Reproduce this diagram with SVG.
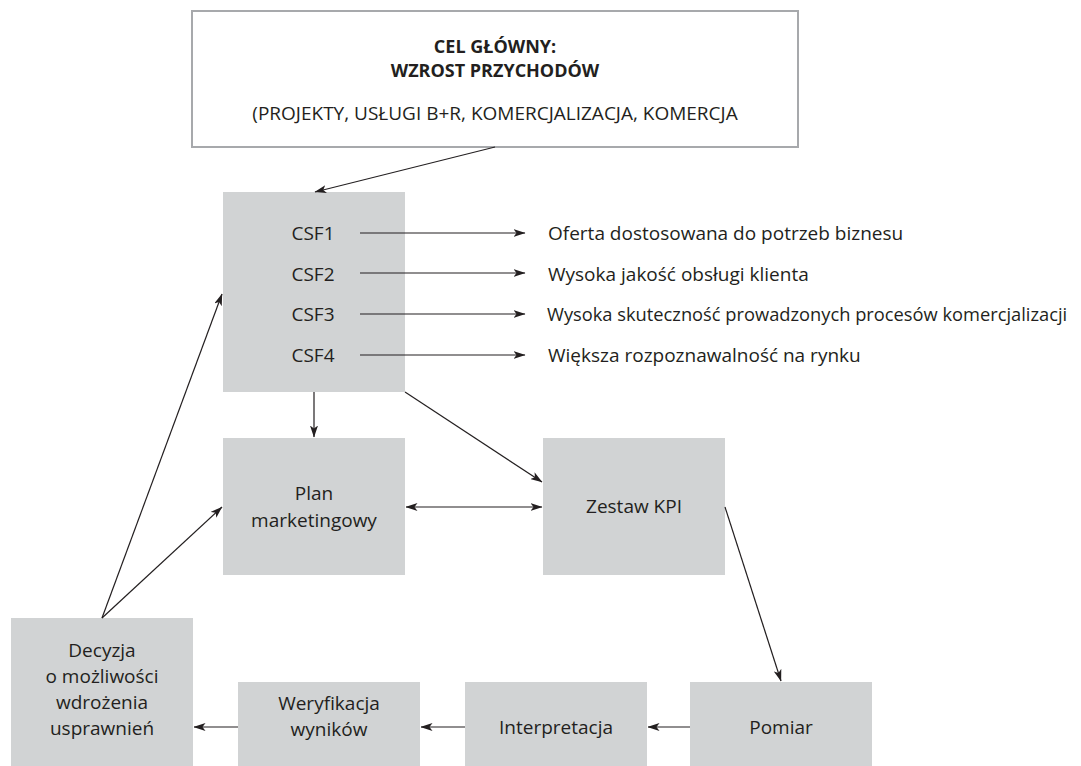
<svg xmlns="http://www.w3.org/2000/svg" width="1081" height="766" viewBox="0 0 1081 766">
<style>
  .box { fill: #d1d3d4; stroke: none; }
  .goal { fill: #ffffff; stroke: #a7a9ac; stroke-width: 2; }
  .t { font-family: "Open Sans", "Liberation Sans", sans-serif; font-size: 19px; fill: #231f20; }
  .c { text-anchor: middle; }
  .b { font-weight: bold; font-size: 18px; }
  .ln { fill: none; stroke: #231f20; stroke-width: 1.2; marker-end: url(#ah); }
  .dbl { marker-start: url(#ah); }
</style>
<defs>
  <marker id="ah" viewBox="0 0 12 8" refX="11.5" refY="4" markerWidth="12" markerHeight="8" markerUnits="userSpaceOnUse" orient="auto-start-reverse">
    <path d="M0,0 L12,4 L0,8 L3,4 Z" fill="#231f20"/>
  </marker>
</defs>
<rect width="1081" height="766" fill="#ffffff"/>

<g id="goal">
  <rect class="goal" x="192" y="11" width="606" height="136"/>
  <text class="t c b" x="495" y="53">CEL GŁÓWNY:</text>
  <text class="t c b" x="495" y="77">WZROST PRZYCHODÓW</text>
  <text class="t c" x="495" y="120">(PROJEKTY, USŁUGI B+R, KOMERCJALIZACJA, KOMERCJA</text>
</g>

<g id="csf">
  <rect class="box" x="223" y="192" width="182" height="200"/>
  <text class="t c" x="313" y="240">CSF1</text>
  <text class="t c" x="313" y="281">CSF2</text>
  <text class="t c" x="313" y="321">CSF3</text>
  <text class="t c" x="313" y="362">CSF4</text>
</g>

<g id="csf-labels">
  <text id="lbl1" class="t" x="548" y="240">Oferta dostosowana do potrzeb biznesu</text>
  <text id="lbl2" class="t" x="548" y="281">Wysoka jakość obsługi klienta</text>
  <text id="lbl3" class="t" x="547" y="321" style="font-size:18.3px">Wysoka skuteczność prowadzonych procesów komercjalizacji</text>
  <text id="lbl4" class="t" x="548" y="362">Większa rozpoznawalność na rynku</text>
</g>

<g id="plan">
  <rect class="box" x="223" y="438" width="182" height="137"/>
  <text class="t c" x="314" y="500">Plan</text>
  <text class="t c" x="314" y="527">marketingowy</text>
</g>

<g id="kpi">
  <rect class="box" x="543" y="438" width="182" height="137"/>
  <text class="t c" x="634" y="513">Zestaw KPI</text>
</g>

<g id="decyzja">
  <rect class="box" x="11" y="618" width="182" height="148"/>
  <text class="t c" x="102" y="657">Decyzja</text>
  <text class="t c" x="102" y="683">o możliwości</text>
  <text class="t c" x="102" y="709">wdrożenia</text>
  <text class="t c" x="102" y="735">usprawnień</text>
</g>

<g id="weryfikacja">
  <rect class="box" x="238" y="682" width="182" height="84"/>
  <text class="t c" x="329" y="710">Weryfikacja</text>
  <text class="t c" x="329" y="736">wyników</text>
</g>

<g id="interpretacja">
  <rect class="box" x="465" y="682" width="182" height="84"/>
  <text class="t c" x="556" y="734">Interpretacja</text>
</g>

<g id="pomiar">
  <rect class="box" x="690" y="682" width="182" height="84"/>
  <text class="t c" x="781" y="734">Pomiar</text>
</g>

<g id="connectors">
  <path class="ln" d="M495,147 L315,192"/>
  <path class="ln" d="M360,233 H525"/>
  <path class="ln" d="M360,273 H525"/>
  <path class="ln" d="M360,314 H525"/>
  <path class="ln" d="M360,355 H525"/>
  <path class="ln" d="M314,392 V437"/>
  <path class="ln" d="M405,392 L542,482"/>
  <path class="ln dbl" d="M406,507 H542"/>
  <path class="ln" d="M725,507 L781,681"/>
  <path class="ln" d="M690,727 H648"/>
  <path class="ln" d="M465,727 H421"/>
  <path class="ln" d="M238,727 H194"/>
  <path class="ln" d="M102,618 L222,294"/>
  <path class="ln" d="M102,618 L222,507"/>
</g>
</svg>
